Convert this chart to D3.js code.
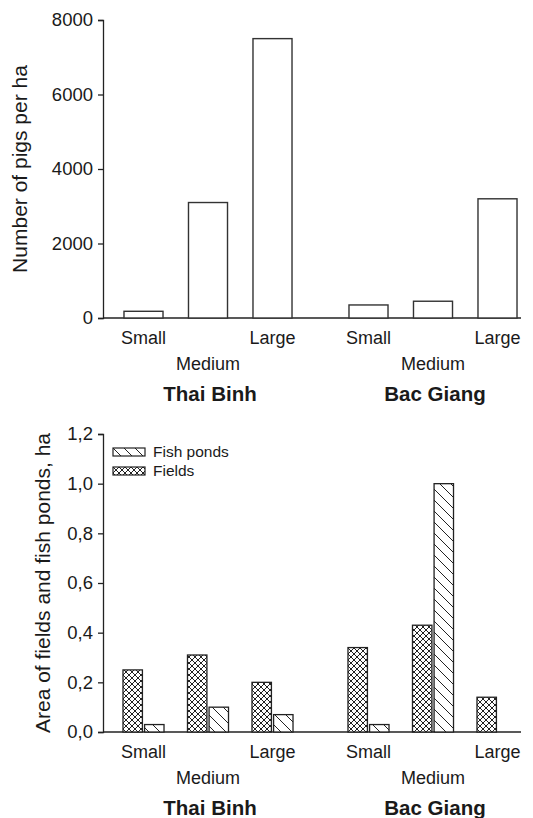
<!DOCTYPE html>
<html>
<head>
<meta charset="utf-8">
<script src="https://cdn.jsdelivr.net/npm/d3@7"></script>
<style>
  body { margin: 0; background: #fff; }
  svg { display: block; font-family: "Liberation Sans", Arial, sans-serif; }
  text { fill: #1a1a1a; }
</style>
</head>
<body>
<div id="chart"></div>
<script>

// chart data
var regions = ['Thai Binh', 'Bac Giang']
var sizes = ['Small', 'Medium', 'Large']

// pigs per ha, by region then size
var pigsThaiBinh = [180, 3100, 7500]
var pigsBacGiang = [350, 450, 3200]
var pigTicks = [0, 2000, 4000, 6000, 8000]

// area (ha), by region then size
var areaSeries = ['Fields', 'Fish ponds']
var fieldsThaiBinh = [0.25, 0.31, 0.20]
var pondsThaiBinh = [0.03, 0.10, 0.07]
var fieldsBacGiang = [0.34, 0.43, 0.14]
var pondsBacGiang = [0.03, 1.00, 0]
var areaTicks = [0, 0.2, 0.4, 0.6, 0.8, 1.0, 1.2]

var width = 533
	, height = 818
	, axisX = 103
	, axisEnd = 521

var svg = d3.select('#chart').append('svg')
	.attr('width', width)
	.attr('height', height)

// hatch patterns
var defs = svg.append('defs')

var cross = defs.append('pattern')
	.attr('id', 'cross')
	.attr('patternUnits', 'userSpaceOnUse')
	.attr('width', 6)
	.attr('height', 6)
cross.append('rect').attr('width', 6).attr('height', 6).attr('fill', '#fff')
cross.append('path')
	.attr('d', 'M0,0L6,6M6,0L0,6M-1,5L1,7M5,-1L7,1M-1,1L1,-1M5,7L7,5')
	.attr('stroke', '#222')
	.attr('stroke-width', 1)

var diag = defs.append('pattern')
	.attr('id', 'diag')
	.attr('patternUnits', 'userSpaceOnUse')
	.attr('width', 11)
	.attr('height', 11)
diag.append('rect').attr('width', 11).attr('height', 11).attr('fill', '#fff')
diag.append('path')
	.attr('d', 'M0,0L11,11M-1,10L1,12M10,-1L12,1')
	.attr('stroke', '#222')
	.attr('stroke-width', 1)

var fills = { 'Fields': 'url(#cross)', 'Fish ponds': 'url(#diag)' }

// shared x layout
var xRegion = d3.scaleBand()
	.domain(regions)
	.range([111.25, 529.75])
	.paddingInner(0.14)
	.paddingOuter(0)

var xSize = d3.scaleBand()
	.domain(sizes)
	.range([0, xRegion.bandwidth()])
	.paddingInner(0.395)
	.paddingOuter(0.1975)

function slotX(region, size) {
	return xRegion(region) + xSize(size)
}

/**
 * draw axes and category labels for one panel
 */
function drawFrame(y, ticks, fmt, title, titleX) {

	var g = svg.append('g')

	g.append('g')
		.attr('transform', 'translate(' + axisX + ',0)')
		.call(d3.axisLeft(y).tickValues(ticks).tickFormat(fmt).tickSizeOuter(0).tickSize(5).tickPadding(5))
		.call(function(a) {
			a.select('.domain').attr('stroke', '#222').attr('stroke-width', 1.3)
			a.selectAll('.tick line').attr('stroke', '#222').attr('stroke-width', 1.3)
			a.selectAll('.tick text')
				.style('font-size', '18.5px')
				.style('font-family', '"Liberation Sans", Arial, sans-serif')
				.attr('fill', '#1a1a1a')
		})

	var base = y(0)

	g.append('line')
		.attr('x1', axisX)
		.attr('x2', axisEnd)
		.attr('y1', base)
		.attr('y2', base)
		.attr('stroke', '#222')
		.attr('stroke-width', 1.5)

	regions.forEach(function(r) {
		sizes.forEach(function(s, i) {
			g.append('text')
				.attr('x', slotX(r, s) + xSize.bandwidth() / 2)
				.attr('y', base + (i === 1 ? 46 : 20))
				.attr('dy', '0.35em')
				.attr('text-anchor', 'middle')
				.style('font-size', '18px')
				.text(s)
		})
		g.append('text')
			.attr('x', xRegion(r) + xRegion.bandwidth() / 2 + 2)
			.attr('y', base + 76)
			.attr('dy', '0.35em')
			.attr('text-anchor', 'middle')
			.style('font-size', '20.5px')
			.style('font-weight', 'bold')
			.text(r)
	})

	var mid = (y.range()[0] + y.range()[1]) / 2
	g.append('text')
		.attr('transform', 'translate(' + titleX + ',' + mid + ') rotate(-90)')
		.attr('dy', '0.35em')
		.attr('text-anchor', 'middle')
		.style('font-size', '21px')
		.text(title)

	return g
}

// top panel: pigs per ha
var yPigs = d3.scaleLinear().domain([0, 8000]).range([318, 20])

drawFrame(yPigs, pigTicks, d3.format('d'), 'Number of pigs per ha', 20)

var pigData = []
sizes.forEach(function(s, i) {
	pigData.push({ region: 'Thai Binh', size: s, value: pigsThaiBinh[i] })
})
sizes.forEach(function(s, i) {
	pigData.push({ region: 'Bac Giang', size: s, value: pigsBacGiang[i] })
})

svg.append('g').selectAll('rect').data(pigData)
  .enter()
	.append('rect')
	.attr('x', function(d) { return slotX(d.region, d.size) })
	.attr('width', xSize.bandwidth())
	.attr('y', function(d) { return yPigs(d.value) })
	.attr('height', function(d) { return yPigs(0) - yPigs(d.value) })
	.attr('fill', '#fff')
	.attr('stroke', '#333')
	.attr('stroke-width', 1.4)

// bottom panel: area of fields and fish ponds
var yArea = d3.scaleLinear().domain([0, 1.2]).range([732, 434])
var commaFmt = d3.formatLocale({ decimal: ',', thousands: '.', grouping: [3], currency: ['', ''] }).format('.1f')

drawFrame(yArea, areaTicks, commaFmt, 'Area of fields and fish ponds, ha', 43)

var xSeries = d3.scaleBand()
	.domain(areaSeries)
	.range([-1, xSize.bandwidth() + 1])
	.paddingInner(0.1)

var areaData = []
sizes.forEach(function(s, i) {
	areaData.push({ region: 'Thai Binh', size: s, series: 'Fields', value: fieldsThaiBinh[i] })
	areaData.push({ region: 'Thai Binh', size: s, series: 'Fish ponds', value: pondsThaiBinh[i] })
})
sizes.forEach(function(s, i) {
	areaData.push({ region: 'Bac Giang', size: s, series: 'Fields', value: fieldsBacGiang[i] })
	areaData.push({ region: 'Bac Giang', size: s, series: 'Fish ponds', value: pondsBacGiang[i] })
})

svg.append('g').selectAll('rect').data(areaData.filter(function(d) { return d.value > 0 }))
  .enter()
	.append('rect')
	.attr('x', function(d) { return slotX(d.region, d.size) + xSeries(d.series) })
	.attr('width', xSeries.bandwidth())
	.attr('y', function(d) { return yArea(d.value) })
	.attr('height', function(d) { return yArea(0) - yArea(d.value) })
	.attr('fill', function(d) { return fills[d.series] })
	.attr('stroke', '#222')
	.attr('stroke-width', 1.3)

// legend
var legend = svg.append('g').attr('transform', 'translate(113,448)')
var legendItems = ['Fish ponds', 'Fields']

legendItems.forEach(function(name, i) {
	var row = legend.append('g').attr('transform', 'translate(0,' + (i * 19) + ')')
	row.append('rect')
		.attr('width', 32)
		.attr('height', 8)
		.attr('fill', fills[name])
		.attr('stroke', '#222')
		.attr('stroke-width', 1.2)
	row.append('text')
		.attr('x', 40)
		.attr('y', 4)
		.attr('dy', '0.35em')
		.style('font-size', '15.5px')
		.text(name)
})

</script>
</body>
</html>
